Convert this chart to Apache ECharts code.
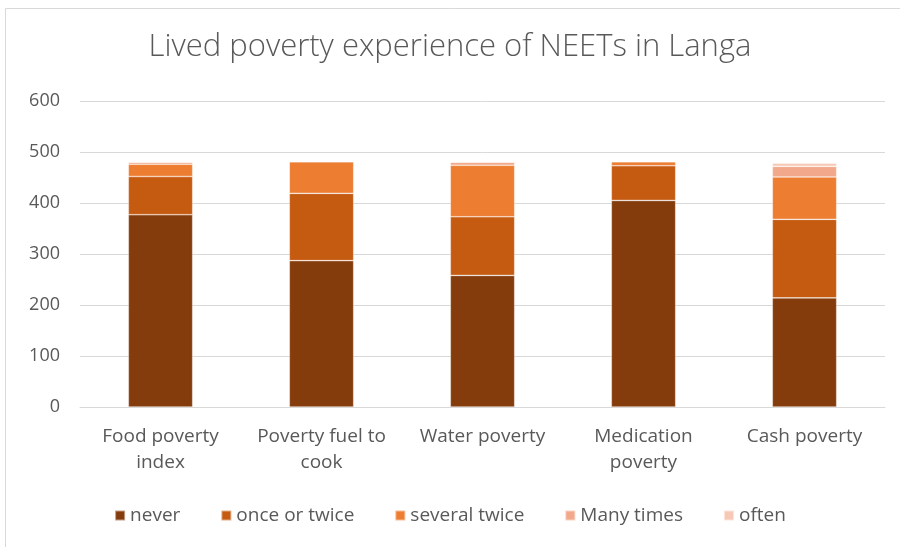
<!DOCTYPE html>
<html>
<head>
<meta charset="utf-8">
<style>
  html, body { margin: 0; padding: 0; background: #fff; }
  #chart { width: 900px; height: 547px; }
</style>
<script src="https://cdn.jsdelivr.net/npm/echarts@6/dist/echarts.min.js"></script>
</head>
<body>
<div id="chart"></div>
<script>
  const categories = ['Food poverty\nindex', 'Poverty fuel to\ncook', 'Water poverty', 'Medication\npoverty', 'Cash poverty']
  const seriesNames = ['never', 'once or twice', 'several twice', 'Many times', 'often']
  const never = [377, 287, 258, 405, 214]
  const onceOrTwice = [75, 132, 115, 68, 154]
  const severalTwice = [24, 62, 101, 8, 83]
  const manyTimes = [4, 0, 6, 0, 21]
  const often = [0, 0, 0, 0, 6]
  const yTicks = [0, 100, 200, 300, 400, 500, 600]

  const colors = ['#843C0C', '#C55A11', '#ED7D31', '#F2A98B', '#F7C8B6']
  const values = [never, onceOrTwice, severalTwice, manyTimes, often]
  const textColor = '#595959'
  const font = 'Open Sans'

  const chart = echarts.init(document.getElementById('chart'))
  chart.setOption({
    animation: false,
    color: colors,
    graphic: [{
      type: 'rect',
      shape: { x: 5.5, y: 8.5, width: 900, height: 545 },
      style: { fill: 'none', stroke: '#d9d9d9', lineWidth: 1 },
      z: -10
    }],
    title: {
      text: 'Lived poverty experience of NEETs in Langa',
      left: 'center',
      top: 27,
      textStyle: { color: textColor, fontFamily: font, fontSize: 31, fontWeight: 300 }
    },
    legend: {
      bottom: 17,
      left: 'center',
      icon: 'rect',
      itemWidth: 10,
      itemHeight: 10,
      itemGap: 40,
      textStyle: { color: textColor, fontFamily: font, fontSize: 19 },
      data: seriesNames
    },
    grid: { left: 80, right: 15, top: 101, bottom: 140 },
    xAxis: {
      type: 'category',
      data: categories,
      axisTick: { show: false },
      axisLine: { lineStyle: { color: '#d9d9d9' } },
      axisLabel: { color: textColor, fontFamily: font, fontSize: 19, margin: 17, lineHeight: 26, interval: 0 }
    },
    yAxis: {
      type: 'value',
      min: yTicks[0],
      max: yTicks[yTicks.length - 1],
      interval: 100,
      axisLine: { show: false },
      axisTick: { show: false },
      splitLine: { lineStyle: { color: '#d9d9d9', width: 1 } },
      axisLabel: { color: textColor, fontFamily: font, fontSize: 18, margin: 20 }
    },
    series: seriesNames.map((name, i) => ({
      name: name,
      type: 'bar',
      stack: 'total',
      barWidth: '40%',
      itemStyle: { color: colors[i], borderColor: 'rgba(255,255,255,0.5)', borderWidth: 0.7 },
      data: values[i]
    }))
  })
</script>
</body>
</html>
